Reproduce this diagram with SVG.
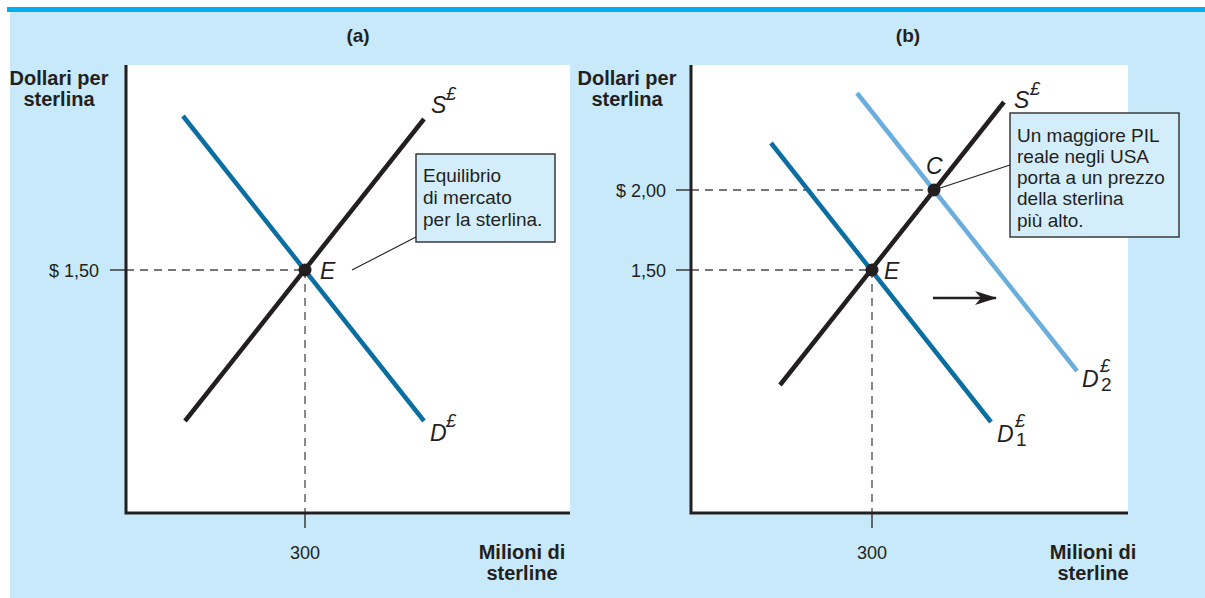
<svg xmlns="http://www.w3.org/2000/svg" width="1205" height="598" viewBox="0 0 1205 598">
<defs>
<style>
.t{font-family:"Liberation Sans",Arial,sans-serif;fill:#231f20}
.b{font-weight:bold;font-size:20px}
.tick{font-size:18px}
.call{font-size:19px}
.lab{font-style:italic;font-size:23px}
.sup{font-style:italic;font-size:18px}
.sub{font-size:19px}
.axis{stroke:#231f20;stroke-width:3;fill:none}
.dash{stroke:#4a4a4a;stroke-width:1.3;stroke-dasharray:8,6;fill:none}
.tk{stroke:#231f20;stroke-width:1.3}
.sup-curve{stroke:#231f20;stroke-width:4.5;fill:none}
.dem{stroke:#0a6fa0;stroke-width:4.5;fill:none}
.dem2{stroke:#6aaede;stroke-width:4.5;fill:none}
.box{fill:#d4edfa;stroke:#3a3a3a;stroke-width:1.5}
.lead{stroke:#231f20;stroke-width:1.1;fill:none}
</style>
<marker id="ah" viewBox="0 0 22 14" refX="21" refY="7" markerWidth="22" markerHeight="14" markerUnits="userSpaceOnUse" orient="auto">
<path d="M0,0 L22,7 L0,14 L6,7 Z" fill="#231f20"/>
</marker>
</defs>
<rect x="0" y="0" width="1205" height="598" fill="#ffffff"/>
<rect x="10" y="12" width="1195" height="586" fill="#c7e9f9"/>
<rect x="7" y="7" width="1198" height="5" fill="#00aeef"/>

<!-- Panel (a) -->
<g id="panel-a">
<rect x="126" y="65" width="444" height="448" fill="#ffffff"/>
<text class="t b" x="358" y="42" text-anchor="middle" style="font-size:19px">(a)</text>
<text class="t b" x="59" y="85" text-anchor="middle">Dollari per</text>
<text class="t b" x="59" y="106" text-anchor="middle">sterlina</text>
<text class="t b" x="522" y="559" text-anchor="middle">Milioni di</text>
<text class="t b" x="522" y="580" text-anchor="middle">sterline</text>
<text class="t tick" x="99" y="277" text-anchor="end">$ 1,50</text>
<text class="t tick" x="305" y="559" text-anchor="middle">300</text>
<line class="tk" x1="110" y1="270" x2="126" y2="270"/>
<line class="tk" x1="305" y1="513" x2="305" y2="528"/>
<path class="dash" d="M126,270 H305 M305,270 V513"/>
<path class="axis" d="M126,65 V513 H570"/>
</g>
<g id="curve-D-a">
<line class="dem" x1="183" y1="116" x2="424" y2="421"/>
<text class="t lab" x="430" y="441">D</text>
<text class="t sup" x="446" y="427">£</text>
</g>
<g id="curve-S-a">
<line class="sup-curve" x1="185" y1="421" x2="424" y2="119"/>
<text class="t lab" x="431" y="113">S</text>
<text class="t sup" x="446" y="100">£</text>
</g>
<g id="point-E-a">
<circle cx="305" cy="270" r="6.5" fill="#231f20"/>
<text class="t lab" x="320" y="279">E</text>
</g>
<g id="callout-a">
<rect class="box" x="416" y="154" width="139" height="88"/>
<text class="t call" x="423" y="182">Equilibrio</text>
<text class="t call" x="423" y="204">di mercato</text>
<text class="t call" x="423" y="226">per la sterlina.</text>
</g>

<!-- Panel (b) -->
<g id="panel-b">
<rect x="691" y="65" width="437" height="448" fill="#ffffff"/>
<text class="t b" x="908" y="42" text-anchor="middle" style="font-size:19px">(b)</text>
<text class="t b" x="627" y="85" text-anchor="middle">Dollari per</text>
<text class="t b" x="627" y="106" text-anchor="middle">sterlina</text>
<text class="t b" x="1093" y="559" text-anchor="middle">Milioni di</text>
<text class="t b" x="1093" y="580" text-anchor="middle">sterline</text>
<text class="t tick" x="666" y="197" text-anchor="end">$ 2,00</text>
<text class="t tick" x="666" y="277" text-anchor="end">1,50</text>
<text class="t tick" x="872" y="559" text-anchor="middle">300</text>
<line class="tk" x1="676" y1="190" x2="691" y2="190"/>
<line class="tk" x1="676" y1="270" x2="691" y2="270"/>
<line class="tk" x1="872" y1="513" x2="872" y2="528"/>
<path class="dash" d="M691,190 H934 M691,270 H872 M872,270 V513"/>
<path class="axis" d="M691,65 V513 H1128"/>
</g>
<g id="curve-D1-b">
<line class="dem" x1="771" y1="143" x2="991" y2="422"/>
<text class="t lab" x="997" y="442">D</text>
<text class="t sup" x="1015" y="427">£</text>
<text class="t sub" x="1016" y="446">1</text>
</g>
<g id="curve-D2-b">
<line class="dem2" x1="857" y1="93" x2="1077" y2="371"/>
<text class="t lab" x="1082" y="387">D</text>
<text class="t sup" x="1100" y="372">£</text>
<text class="t sub" x="1101" y="391">2</text>
</g>
<g id="curve-S-b">
<line class="sup-curve" x1="780" y1="385" x2="1004" y2="102"/>
<text class="t lab" x="1014" y="108">S</text>
<text class="t sup" x="1030" y="95">£</text>
</g>
<g id="point-E-b">
<circle cx="872" cy="270" r="6.5" fill="#231f20"/>
<text class="t lab" x="884" y="279">E</text>
</g>
<g id="point-C-b">
<circle cx="934" cy="190" r="6.5" fill="#231f20"/>
<text class="t lab" x="926" y="174">C</text>
</g>
<g id="callout-b">
<rect class="box" x="1010" y="113" width="169" height="124"/>
<text class="t call" x="1017" y="142">Un maggiore PIL</text>
<text class="t call" x="1017" y="163">reale negli USA</text>
<text class="t call" x="1017" y="184">porta a un prezzo</text>
<text class="t call" x="1017" y="205">della sterlina</text>
<text class="t call" x="1017" y="227">più alto.</text>
</g>

<g id="connectors">
<line class="lead" x1="416" y1="237" x2="352" y2="270"/>
<line class="lead" x1="1010" y1="165" x2="934" y2="190"/>
<line stroke="#231f20" stroke-width="2.5" x1="933" y1="298" x2="996" y2="298" marker-end="url(#ah)"/>
</g>
</svg>
